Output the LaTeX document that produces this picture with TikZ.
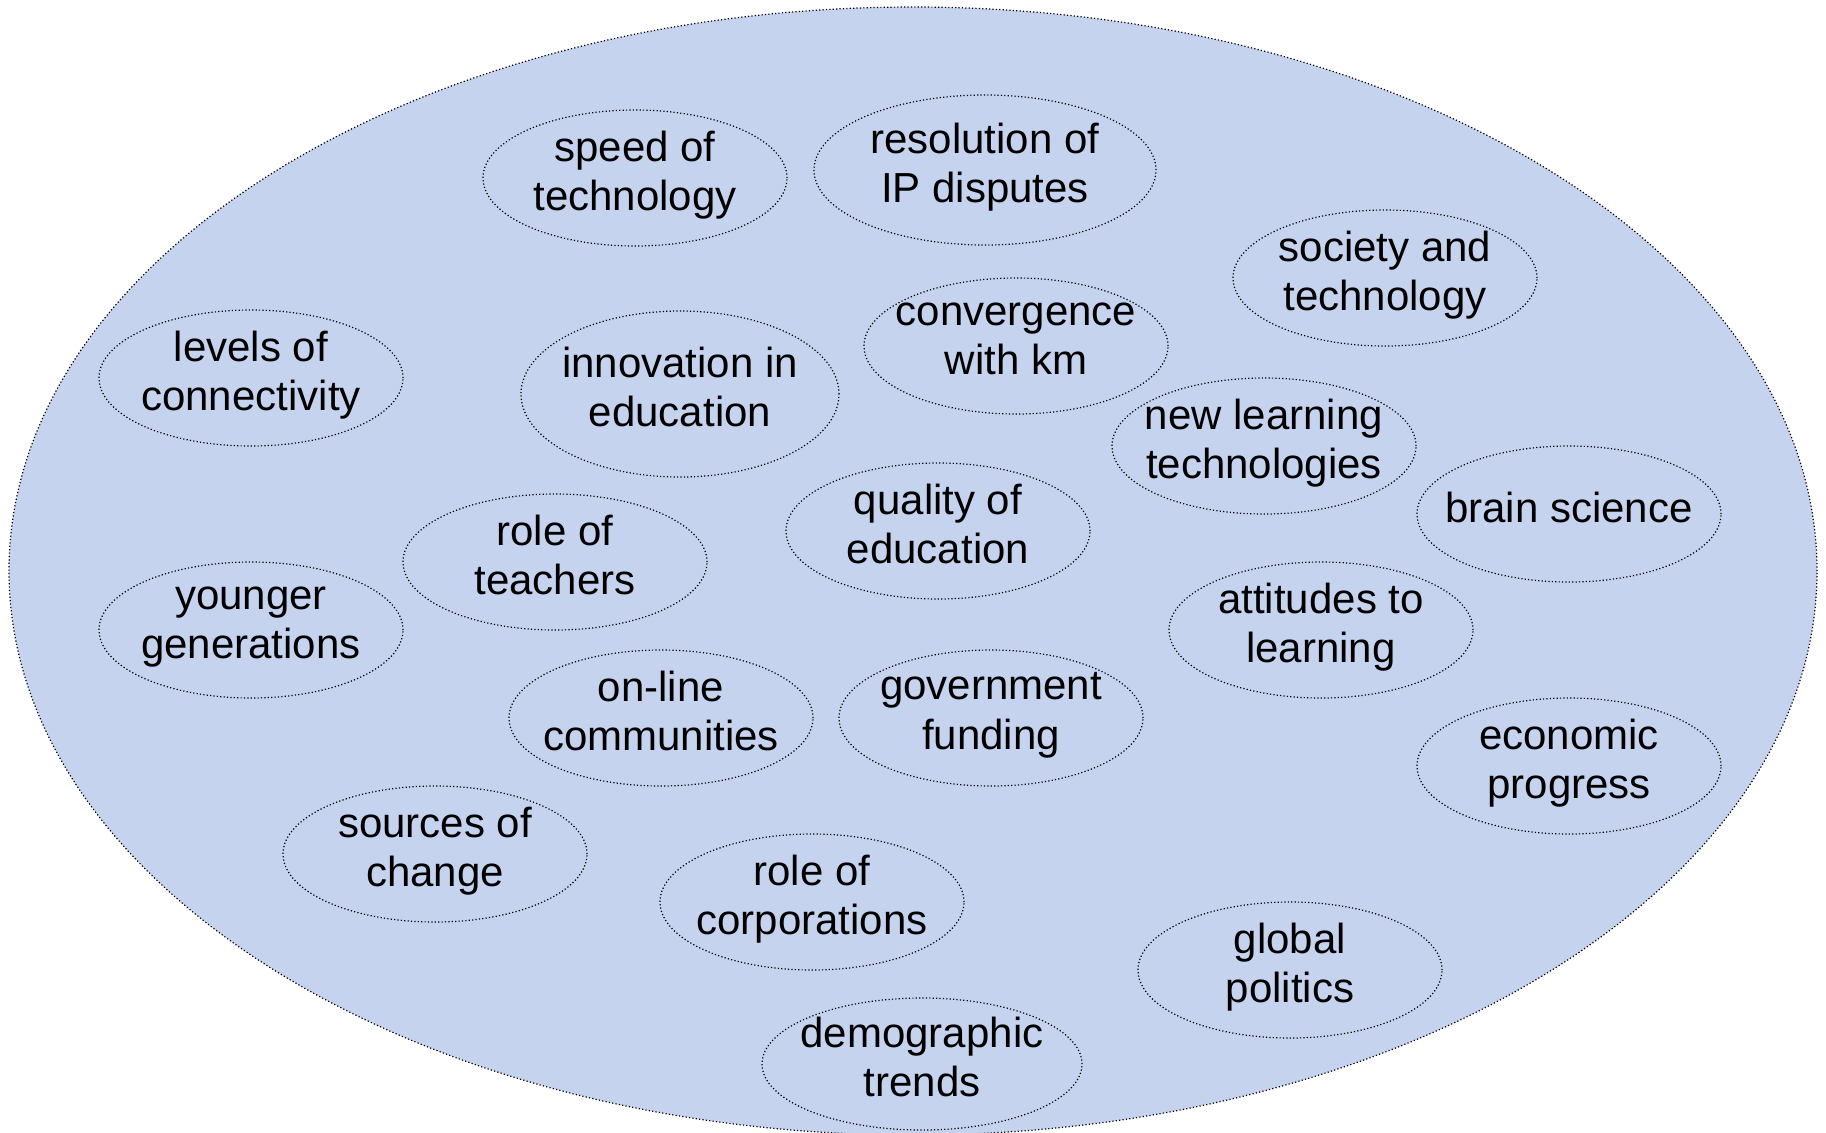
\documentclass[tikz,border=0pt]{standalone}
\usepackage{fontspec}
\setmainfont{Liberation Sans}
\usetikzlibrary{shapes.geometric}
\definecolor{bgblue}{RGB}{197,211,238}
\tikzset{
  dotline/.style={line width=0.6pt, dash pattern=on 0.6pt off 1.1pt},
  topic/.style={ellipse, draw, dotline, align=center, inner xsep=-12pt, inner ysep=-12pt,
    text depth=7pt, minimum width=152pt, minimum height=68pt,
    font=\fontsize{21}{24.6}\selectfont},
}
\begin{document}
\begin{tikzpicture}[x=0.5pt,y=-0.5pt]
    \useasboundingbox (0,0) rectangle (1826,1132);
    % the big bubble
    \path[draw, dotline, fill=bgblue] (913,571) ellipse [x radius=452pt, y radius=282pt];
    % topics
    \node[topic] (speed) at (635,178) {speed of\\technology};
    \node[topic, minimum width=171pt, minimum height=75pt] (resolution) at (985,170) {resolution of\\IP disputes};
    \node[topic] (society) at (1385,278) {society and\\technology};
    \node[topic] (levels) at (251,378) {levels of\\connectivity};
    \node[topic, minimum width=159pt, minimum height=83pt] (innovation) at (680,394) {innovation in\\education};
    \node[topic] (convergence) at (1016,346) {convergence\\with km};
    \node[topic] (newlearning) at (1264,446) {new learning\\technologies};
    \node[topic] (brain) at (1569,514) {brain science};
    \node[topic] (quality) at (938,531) {quality of\\education};
    \node[topic] (teachers) at (555,562) {role of\\teachers};
    \node[topic] (younger) at (251,630) {younger\\generations};
    \node[topic] (attitudes) at (1321,630) {attitudes to\\learning};
    \node[topic] (online) at (661,718) {on-line\\communities};
    \node[topic] (funding) at (991,718) {government\\funding};
    \node[topic] (economic) at (1569,766) {economic\\progress};
    \node[topic] (sources) at (435,854) {sources of\\change};
    \node[topic] (corporations) at (812,902) {role of\\corporations};
    \node[topic] (global) at (1290,970) {global\\politics};
    \node[topic, minimum width=160pt, minimum height=66pt] (demographic) at (922,1064) {demographic\\trends};
\end{tikzpicture}
\end{document}
